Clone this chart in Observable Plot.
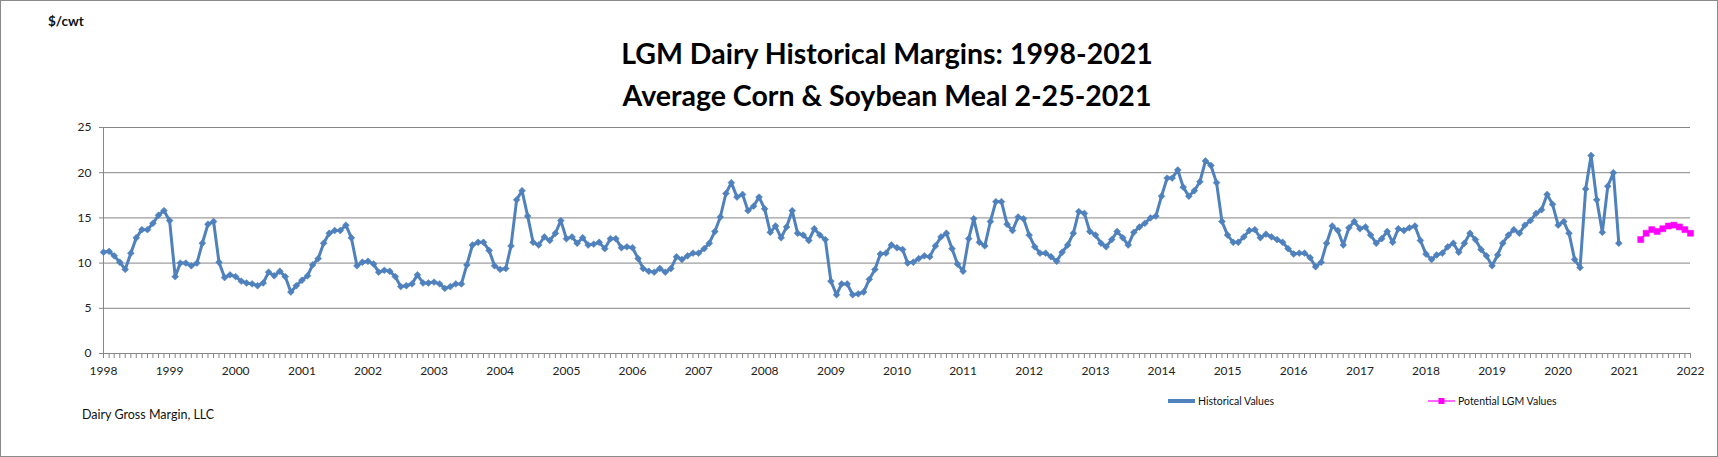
<!DOCTYPE html>
<html>
<head>
<meta charset="utf-8">
<script src="https://cdn.jsdelivr.net/npm/d3@7"></script>
<script src="https://cdn.jsdelivr.net/npm/@observablehq/plot@0.6"></script>
<style>
  body { margin: 0; background: #fff; }
  #wrap { position: relative; width: 1718px; height: 457px; overflow: hidden; background: #fff;
          font-family: Lato, "Open Sans", sans-serif; color: #111; }
  #chart { position: absolute; left: 0; top: 0; }
  #frame { position: absolute; left: 0; top: 0; width: 1718px; height: 457px; box-sizing: border-box;
           border: 1px solid #8a8a8a; pointer-events: none; }
  .abs { position: absolute; white-space: nowrap; line-height: 1; }
  .title { font-weight: 700; font-size: 28.5px; transform: translate(-50%, -50%); color: #000; }
  #unit { left: 48px; top: 15px; font-weight: 700; font-size: 13.5px; }
  #credit { left: 82px; top: 409px; font-size: 12.5px; }
  .leg { top: 395px; font-size: 10.5px; display: flex; align-items: center; }
  .leg svg { margin-right: 3px; }
</style>
</head>
<body>
<div id="wrap">
  <div id="chart"></div>
  <div class="abs title" id="t1" style="left:887px; top:53px;"></div>
  <div class="abs title" id="t2" style="left:887px; top:95px;"></div>
  <div class="abs" id="unit"></div>
  <div class="abs" id="credit"></div>
  <div class="abs leg" id="leg1" style="left:1168px;"></div>
  <div class="abs leg" id="leg2" style="left:1428px;"></div>
  <div id="frame"></div>
</div>
<script>
// ---- data ----
const titleLines = ["LGM Dairy Historical Margins: 1998-2021", "Average Corn & Soybean Meal 2-25-2021"];
const unitLabel = "$/cwt";
const creditLabel = "Dairy Gross Margin, LLC";
const seriesNames = ["Historical Values", "Potential LGM Values"];

const historicalStart = "1998-01-01"; // monthly values
const historicalValues = [
  11.2, 11.3, 10.8, 10.1, 9.3, 11.1, 12.8, 13.7, 13.7, 14.4, 15.3, 15.8,   // 1998
  14.7, 8.5, 10.0, 10.0, 9.7, 10.0, 12.2, 14.3, 14.6, 10.1, 8.4, 8.7,     // 1999
  8.5, 8.0, 7.8, 7.7, 7.5, 7.8, 9.0, 8.6, 9.1, 8.5, 6.8, 7.5,             // 2000
  8.1, 8.6, 9.8, 10.5, 12.2, 13.3, 13.6, 13.6, 14.2, 12.8, 9.7, 10.1,     // 2001
  10.2, 9.9, 9.0, 9.2, 9.1, 8.5, 7.4, 7.5, 7.7, 8.7, 7.8, 7.8,            // 2002
  7.9, 7.7, 7.2, 7.4, 7.7, 7.7, 9.8, 12.0, 12.3, 12.3, 11.4, 9.7,         // 2003
  9.3, 9.4, 11.9, 17.0, 18.0, 15.2, 12.3, 12.0, 12.9, 12.5, 13.3, 14.7,   // 2004
  12.7, 12.9, 12.2, 12.8, 12.0, 12.1, 12.3, 11.6, 12.7, 12.7, 11.7, 11.8, // 2005
  11.7, 10.5, 9.4, 9.1, 9.0, 9.4, 9.0, 9.4, 10.7, 10.4, 10.8, 11.1,       // 2006
  11.1, 11.6, 12.2, 13.5, 15.1, 17.7, 18.9, 17.3, 17.6, 15.8, 16.3, 17.3, // 2007
  16.0, 13.4, 14.1, 12.8, 14.0, 15.8, 13.3, 13.1, 12.5, 13.8, 13.1, 12.6, // 2008
  8.0, 6.5, 7.7, 7.7, 6.5, 6.6, 6.8, 8.2, 9.3, 11.0, 11.1, 12.0,          // 2009
  11.7, 11.5, 10.0, 10.1, 10.5, 10.8, 10.7, 11.9, 12.9, 13.3, 11.6, 9.9,  // 2010
  9.1, 12.7, 14.9, 12.3, 11.9, 14.6, 16.8, 16.8, 14.3, 13.6, 15.1, 14.9,  // 2011
  13.1, 11.8, 11.1, 11.1, 10.7, 10.2, 11.2, 12.0, 13.3, 15.7, 15.5, 13.5, // 2012
  13.1, 12.2, 11.8, 12.6, 13.5, 12.8, 12.0, 13.4, 14.0, 14.4, 15.0, 15.2, // 2013
  17.4, 19.4, 19.4, 20.3, 18.4, 17.4, 18.0, 19.0, 21.3, 20.8, 18.9, 14.6, // 2014
  13.1, 12.3, 12.3, 12.9, 13.6, 13.7, 12.8, 13.2, 12.9, 12.6, 12.3, 11.6, // 2015
  11.0, 11.1, 11.1, 10.6, 9.6, 10.1, 12.2, 14.1, 13.6, 12.0, 13.9, 14.6,  // 2016
  13.8, 14.0, 13.1, 12.2, 12.7, 13.5, 12.3, 13.8, 13.6, 13.9, 14.1, 12.5, // 2017
  11.0, 10.4, 10.9, 11.1, 11.8, 12.2, 11.2, 12.2, 13.3, 12.6, 11.5, 10.8, // 2018
  9.7, 10.9, 12.2, 13.1, 13.7, 13.3, 14.2, 14.7, 15.5, 15.9, 17.6, 16.5,  // 2019
  14.2, 14.6, 13.3, 10.4, 9.5, 18.2, 21.9, 17.0, 13.4, 18.5, 20.0, 12.2   // 2020
];
const lgmStart = "2021-04-01"; // monthly values
const lgmValues = [12.6, 13.3, 13.7, 13.5, 13.8, 14.1, 14.2, 14.0, 13.7, 13.3];

const yTicks = [0, 5, 10, 15, 20, 25];
const yearLabels = d3.range(1998, 2023);
const axisStart = "1998-01-01";
const axisEnd = "2022-01-01";

// ---- build rows ----
const toRows = (start, vals) => vals.map((v, i) => ({ date: d3.utcMonth.offset(new Date(start), i), value: v }));
const hist = toRows(historicalStart, historicalValues);
const lgm = toRows(lgmStart, lgmValues);
const months = d3.utcMonths(new Date(axisStart), d3.utcDay.offset(new Date(axisEnd), 1));
const years = yearLabels.map(y => new Date(Date.UTC(y, 0, 1)));

const blue = "#4f81bd", pink = "#ff00ff", grid = "#868686";

const chart = Plot.plot({
  width: 1718,
  height: 457,
  marginLeft: 103,
  marginRight: 28,
  marginTop: 127,
  marginBottom: 104,
  style: { fontFamily: "Lato, 'Open Sans', sans-serif", fontSize: "12px", background: "transparent", color: "#222" },
  x: { type: "utc", domain: [new Date(axisStart), new Date(axisEnd)] },
  y: { domain: [0, 25] },
  marks: [
    Plot.ruleY(yTicks, { stroke: grid, strokeWidth: 1 }),
    Plot.ruleX([new Date(axisStart)], { stroke: grid, strokeWidth: 1 }),
    Plot.axisY({ ticks: yTicks, tickSize: 4, tickPadding: 8, stroke: grid, fill: "#222", label: null }),
    Plot.axisX({ ticks: months, tickSize: 5, tickFormat: () => "", stroke: grid, label: null }),
    Plot.axisX({ ticks: years, tickSize: 0, tickPadding: 13, tickFormat: d3.utcFormat("%Y"), fill: "#222", label: null }),
    Plot.line(hist, { x: "date", y: "value", stroke: blue, strokeWidth: 3 }),
    Plot.dot(hist, { x: "date", y: "value", symbol: "diamond2", r: 3.1, fill: blue, stroke: blue, strokeWidth: 0.5 }),
    Plot.line(lgm, { x: "date", y: "value", stroke: pink, strokeWidth: 1.5 }),
    Plot.dot(lgm, { x: "date", y: "value", symbol: "square", r: 3.4, fill: pink, stroke: pink, strokeWidth: 0.5 })
  ]
});
document.getElementById("chart").appendChild(chart);

document.getElementById("t1").textContent = titleLines[0];
document.getElementById("t2").textContent = titleLines[1];
document.getElementById("unit").textContent = unitLabel;
document.getElementById("credit").textContent = creditLabel;

document.getElementById("leg1").innerHTML =
  `<svg width="27" height="12"><line x1="0" y1="6" x2="27" y2="6" stroke="${blue}" stroke-width="4"/></svg><span></span>`;
document.getElementById("leg2").innerHTML =
  `<svg width="27" height="12"><line x1="0" y1="6" x2="27" y2="6" stroke="${pink}" stroke-width="1.2"/><rect x="10.5" y="3" width="6" height="6" fill="${pink}"/></svg><span></span>`;
document.querySelector("#leg1 span").textContent = seriesNames[0];
document.querySelector("#leg2 span").textContent = seriesNames[1];
</script>
</body>
</html>
